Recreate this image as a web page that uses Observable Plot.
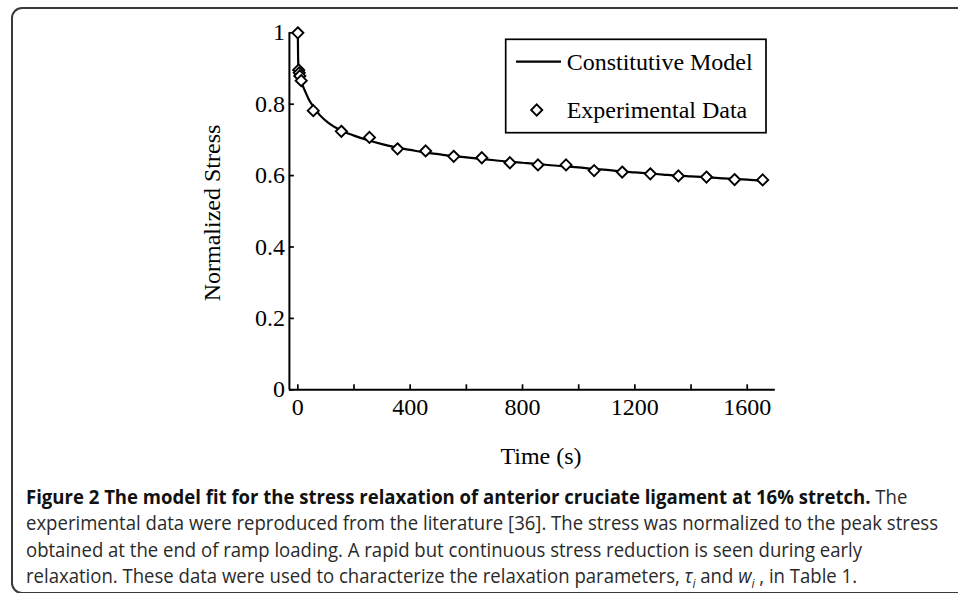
<!DOCTYPE html>
<html>
<head>
<meta charset="utf-8">
<script src="https://cdn.jsdelivr.net/npm/d3@7"></script>
<script src="https://cdn.jsdelivr.net/npm/@observablehq/plot@0.6"></script>
<style>
html, body { margin: 0; padding: 0; background: #fff; width: 958px; height: 593px; overflow: hidden; }
#frame { position: absolute; left: 10.5px; top: 6.5px; width: 1000px; height: 587px; border: 2px solid #3a3a3a; border-radius: 11px; box-sizing: border-box; }
#chart { position: absolute; left: 0; top: 0; }
#caption { position: absolute; left: 26px; top: 484px; font-family: "Open Sans", sans-serif; font-size: 20px; line-height: 26.4px; color: #2a2a2a; }
.ln { white-space: nowrap; transform-origin: 0 50%; width: max-content; }
.ln b { font-weight: 700; color: #111; }
</style>
</head>
<body>
<div id="frame"></div>
<div id="chart"></div>
<div id="caption">
  <div class="ln" id="l1"><b>Figure 2 The model fit for the stress relaxation of anterior cruciate ligament at 16% stretch.</b> The</div>
  <div class="ln" id="l2">experimental data were reproduced from the literature [36]. The stress was normalized to the peak stress</div>
  <div class="ln" id="l3">obtained at the end of ramp loading. A rapid but continuous stress reduction is seen during early</div>
  <div class="ln" id="l4">relaxation. These data were used to characterize the relaxation parameters, <i>τ<sub style="font-size:0.65em">i</sub></i> and <i>w<sub style="font-size:0.65em">i</sub></i> , in Table 1.</div>
</div>
<script>
// ---- data ----
const modelTime   = [0, 1, 3, 6, 10, 15, 25, 40, 55, 80, 110, 150, 200, 250, 300, 350, 400, 450, 500, 550, 600, 650, 700, 750, 800, 850, 900, 950, 1000, 1050, 1100, 1150, 1200, 1250, 1300, 1350, 1400, 1450, 1500, 1550, 1600, 1655];
const modelStress = [1.0, 0.93, 0.895, 0.88, 0.868, 0.857, 0.838, 0.812, 0.794, 0.768, 0.747, 0.728, 0.712, 0.699, 0.688, 0.679, 0.672, 0.665, 0.660, 0.655, 0.651, 0.647, 0.643, 0.639, 0.636, 0.633, 0.629, 0.626, 0.623, 0.619, 0.616, 0.612, 0.609, 0.606, 0.603, 0.600, 0.598, 0.596, 0.593, 0.591, 0.589, 0.586];
const expTime   = [0, 3, 5, 7, 12, 55, 155, 255, 355, 455, 555, 655, 755, 855, 955, 1055, 1155, 1255, 1355, 1455, 1555, 1655];
const expStress = [1.0, 0.896, 0.888, 0.879, 0.866, 0.782, 0.724, 0.707, 0.675, 0.669, 0.654, 0.650, 0.636, 0.630, 0.630, 0.614, 0.610, 0.605, 0.599, 0.596, 0.589, 0.588];
const xDomain = [-30, 1700];
const yDomain = [0, 1];
const xTicks = [0, 200, 400, 600, 800, 1000, 1200, 1400, 1600];
const xLabelTicks = [0, 400, 800, 1200, 1600];
const yTicks = [0, 0.2, 0.4, 0.6, 0.8, 1];
const xTitle = "Time (s)";
const yTitle = "Normalized Stress";
const legendLabels = ["Constitutive Model", "Experimental Data"];

const model = modelTime.map((t, i) => ({t, s: modelStress[i]}));
const exp = expTime.map((t, i) => ({t, s: expStress[i]}));

const W = 958, H = 480;
const mL = 288.9, mR = 183.2, mT = 32.3, mB = H - 389.3;
const frameW = W - mL - mR, frameH = H - mT - mB;
const tickLen = 5;
const serif = "'Liberation Serif', 'Times New Roman', serif";
const fs = 24;
const dotR = 5;

const chart = Plot.plot({
  width: W, height: H,
  marginLeft: mL, marginRight: mR, marginTop: mT, marginBottom: mB,
  x: {domain: xDomain},
  y: {domain: yDomain},
  style: {fontFamily: serif, fontSize: fs + "px", color: "black", background: "transparent", overflow: "visible"},
  marks: [
    Plot.tickX(xTicks, {x: d => d, stroke: "black", strokeWidth: 1.7, insetTop: frameH - tickLen}),
    Plot.tickY(yTicks, {y: d => d, stroke: "black", strokeWidth: 1.7, insetRight: frameW - tickLen}),
    Plot.axisX({ticks: xLabelTicks, tickSize: 0, tickPadding: 8.6, tickFormat: d => String(d), label: null, fontSize: fs}),
    Plot.axisY({ticks: yTicks, tickSize: 0, tickPadding: 4.5, tickFormat: d => String(d), label: null, fontSize: fs}),
    Plot.ruleY([yDomain[0]], {stroke: "black", strokeWidth: 2}),
    Plot.ruleX([xDomain[0]], {stroke: "black", strokeWidth: 2}),
    Plot.line(model, {x: "t", y: "s", stroke: "black", strokeWidth: 2.2, curve: "monotone-x"}),
    Plot.dot(exp, {x: "t", y: "s", symbol: "diamond2", r: dotR, stroke: "black", strokeWidth: 1.9, fill: "white"})
  ]
});
document.getElementById("chart").appendChild(chart);

const svg = d3.select(chart);
svg.append("text")
  .attr("transform", "translate(212,213) rotate(-90)")
  .attr("text-anchor", "middle").attr("dy", "0.35em")
  .style("font-family", serif).style("font-size", fs + "px").attr("fill", "black")
  .text(yTitle);
svg.append("text")
  .attr("x", 541).attr("y", 456)
  .attr("text-anchor", "middle").attr("dy", "0.35em")
  .style("font-family", serif).style("font-size", fs + "px").attr("fill", "black")
  .text(xTitle);

// legend
const lg = svg.append("g").attr("text-anchor", "start");
lg.append("rect").attr("x", 505.7).attr("y", 39.3).attr("width", 260.3).attr("height", 93.4)
  .attr("fill", "white").attr("stroke", "black").attr("stroke-width", 1.7);
lg.append("line").attr("x1", 516).attr("x2", 561).attr("y1", 61.7).attr("y2", 61.7)
  .attr("stroke", "black").attr("stroke-width", 2.2);
lg.append("path").attr("transform", "translate(536.7,110)")
  .attr("d", d3.symbol(d3.symbolDiamond2, Math.PI * dotR * dotR)())
  .attr("fill", "white").attr("stroke", "black").attr("stroke-width", 1.9);
legendLabels.forEach((lab, i) => {
  lg.append("text").attr("x", 566.7).attr("y", i === 0 ? 62 : 110).attr("dy", "0.35em")
    .attr("text-anchor", "start")
    .style("font-family", serif).style("font-size", fs + "px").attr("fill", "black").text(lab);
});

// caption fitting
function fit() {
  const l2 = document.getElementById("l2");
  l2.style.transform = "none";
  const w = l2.getBoundingClientRect().width;
  const k = 912 / w;
  document.querySelectorAll(".ln").forEach(el => el.style.transform = `scaleX(${k})`);
}
fit();
if (document.fonts && document.fonts.ready) document.fonts.ready.then(fit);
</script>
</body>
</html>
